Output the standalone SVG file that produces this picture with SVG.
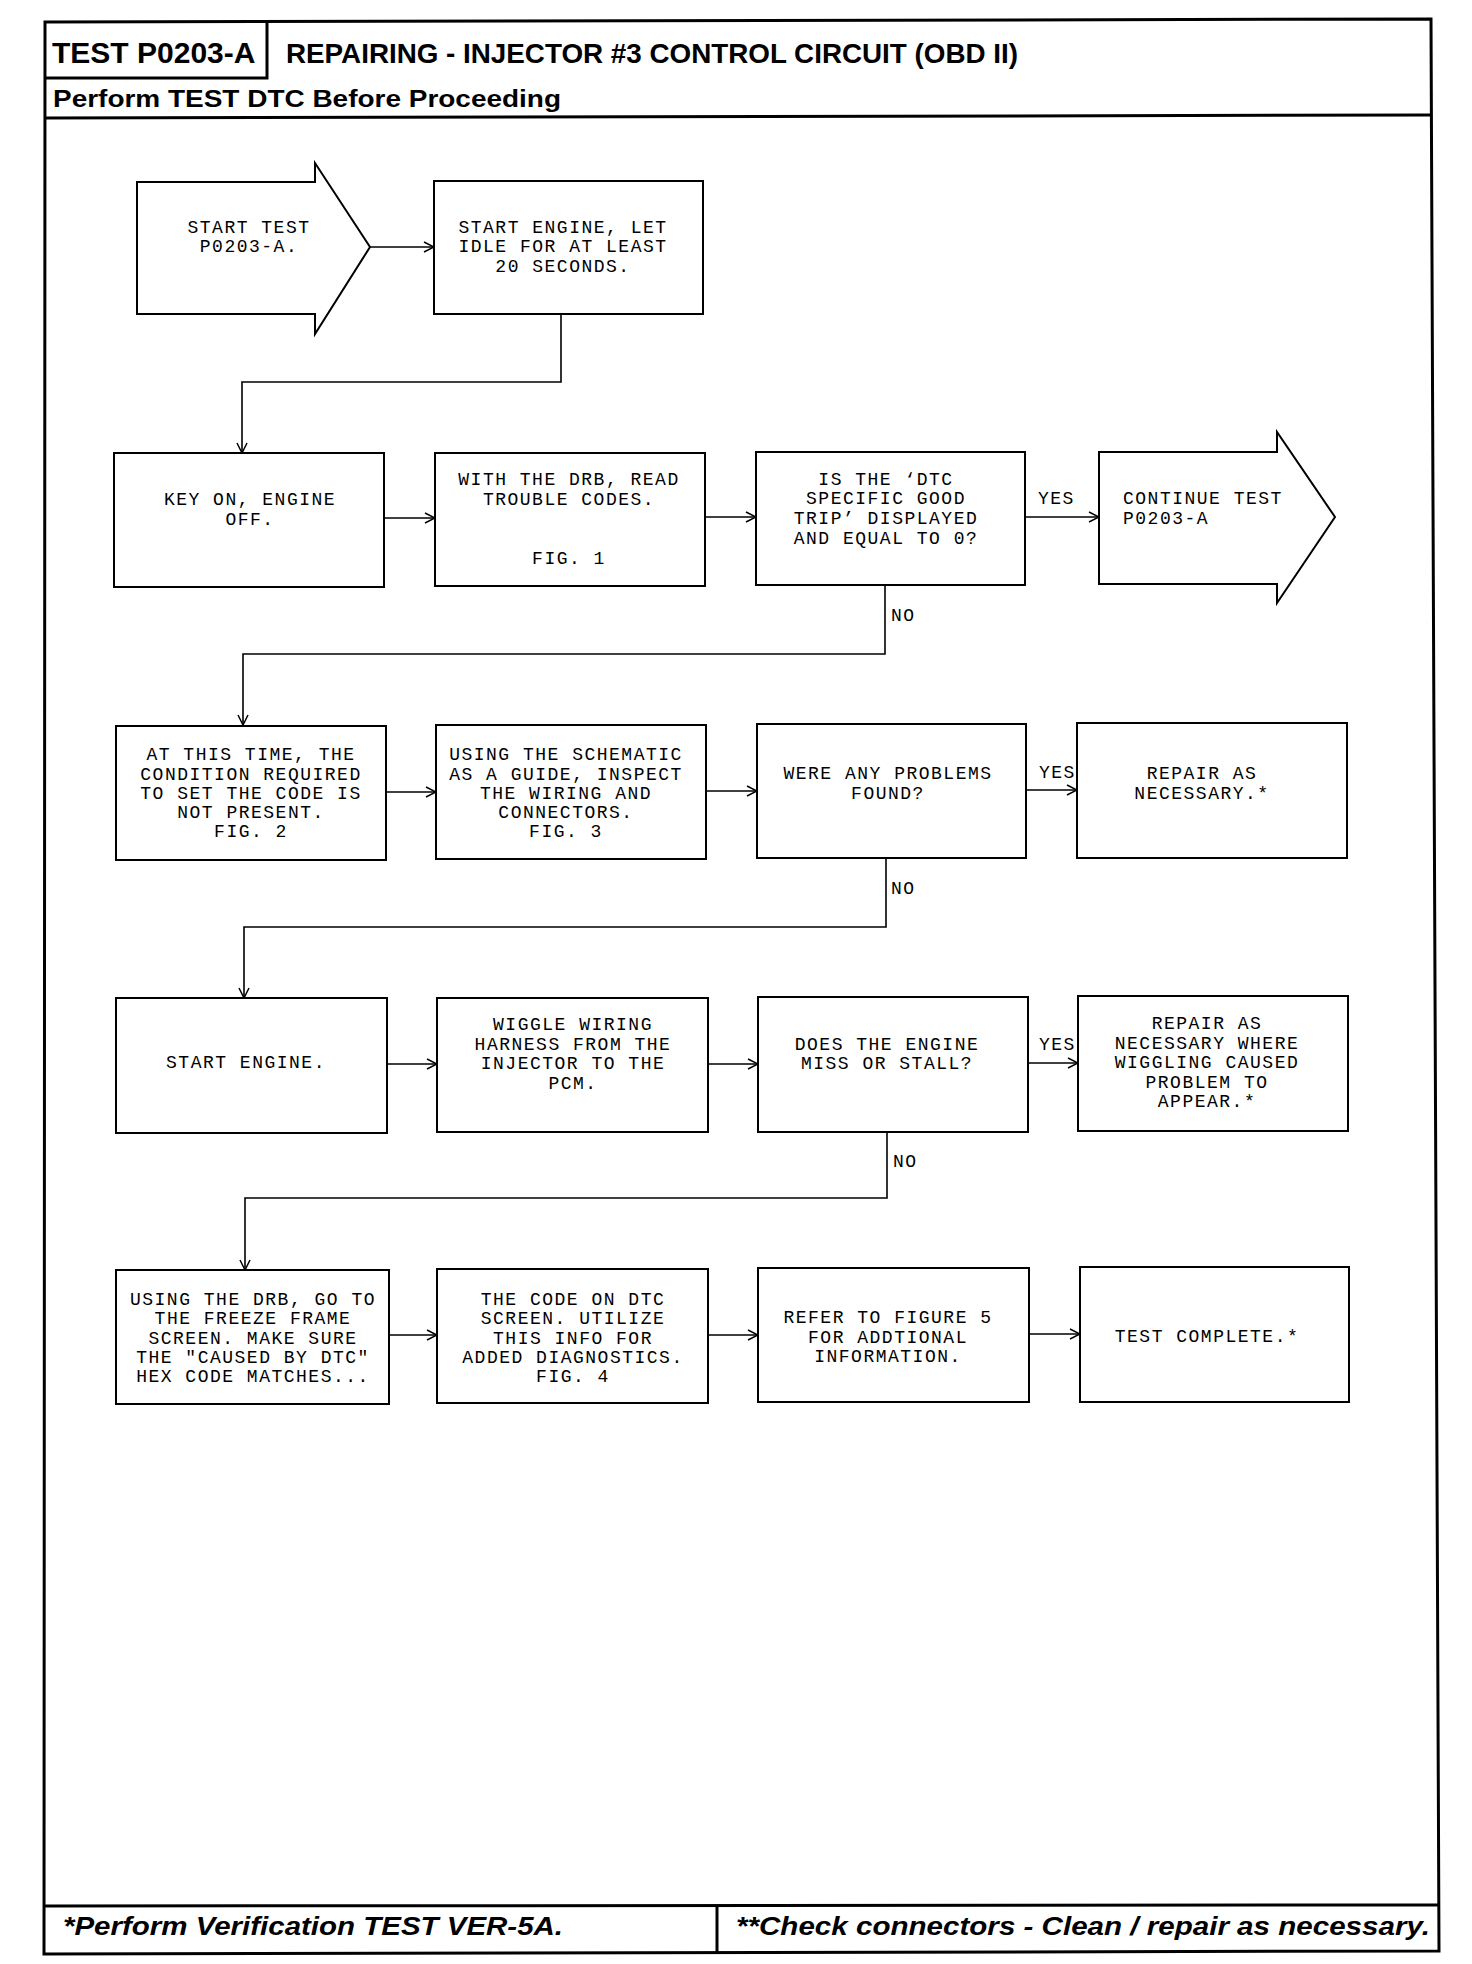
<svg xmlns="http://www.w3.org/2000/svg" width="1472" height="1964" viewBox="0 0 1472 1964">
<style>
.frame{fill:none;stroke:#000;stroke-width:3}
.box{fill:#fff;stroke:#000;stroke-width:2}
.conn{fill:none;stroke:#000;stroke-width:1.6}
.t{font-family:"Liberation Mono","DejaVu Sans Mono",monospace;font-size:18px;letter-spacing:1.5px;fill:#000;text-anchor:middle}
.l{font-family:"Liberation Mono","DejaVu Sans Mono",monospace;font-size:18px;letter-spacing:1.5px;fill:#000}
.h{font-family:"Liberation Sans",Arial,sans-serif;font-weight:bold;fill:#000}
.f{font-family:"Liberation Sans",Arial,sans-serif;font-weight:bold;font-style:italic;fill:#000;font-size:26px}
</style>
<defs>
<marker id="arr" markerUnits="userSpaceOnUse" markerWidth="12" markerHeight="12" refX="11" refY="6" orient="auto">
<path d="M1,1 L11,6 L1,11" fill="none" stroke="#000" stroke-width="1.5"/>
</marker>
</defs>
<rect width="1472" height="1964" fill="#fff"/>
<g id="frame">
<path class="frame" d="M45,22 L1431,19 L1439,1951 L44,1954 Z"/>
<path class="frame" d="M45,78 L267,78 L267,22"/>
<line class="frame" x1="45" y1="118" x2="1431" y2="115"/>
<line class="frame" x1="44" y1="1906" x2="1439" y2="1905"/>
<line class="frame" x1="717" y1="1905" x2="717" y2="1952"/>
<text class="h" x="52" y="63" font-size="30">TEST P0203-A</text>
<text class="h" x="286" y="63" font-size="28" textLength="732" lengthAdjust="spacingAndGlyphs">REPAIRING - INJECTOR #3 CONTROL CIRCUIT (OBD II)</text>
<text class="h" x="53" y="107" font-size="24" textLength="508" lengthAdjust="spacingAndGlyphs">Perform TEST DTC Before Proceeding</text>
<text class="f" x="63" y="1935" textLength="500" lengthAdjust="spacingAndGlyphs">*Perform Verification TEST VER-5A.</text>
<text class="f" x="736" y="1935" textLength="694" lengthAdjust="spacingAndGlyphs">**Check connectors - Clean / repair as necessary.</text>
</g>
<g id="connectors">
<line class="conn" x1="370" y1="247" x2="434" y2="247" marker-end="url(#arr)"/>
<polyline class="conn" points="561,314 561,382 242,382 242,453" marker-end="url(#arr)"/>
<line class="conn" x1="384" y1="518" x2="435" y2="518" marker-end="url(#arr)"/>
<line class="conn" x1="705" y1="517" x2="756" y2="517" marker-end="url(#arr)"/>
<line class="conn" x1="1025" y1="517" x2="1099" y2="517" marker-end="url(#arr)"/>
<polyline class="conn" points="885,585 885,654 243,654 243,725" marker-end="url(#arr)"/>
<line class="conn" x1="386" y1="792" x2="436" y2="792" marker-end="url(#arr)"/>
<line class="conn" x1="706" y1="791" x2="757" y2="791" marker-end="url(#arr)"/>
<line class="conn" x1="1026" y1="790" x2="1077" y2="790" marker-end="url(#arr)"/>
<polyline class="conn" points="886,858 886,927 244,927 244,998" marker-end="url(#arr)"/>
<line class="conn" x1="387" y1="1064" x2="437" y2="1064" marker-end="url(#arr)"/>
<line class="conn" x1="708" y1="1064" x2="758" y2="1064" marker-end="url(#arr)"/>
<line class="conn" x1="1028" y1="1063" x2="1078" y2="1063" marker-end="url(#arr)"/>
<polyline class="conn" points="887,1132 887,1198 245,1198 245,1270" marker-end="url(#arr)"/>
<line class="conn" x1="389" y1="1335" x2="437" y2="1335" marker-end="url(#arr)"/>
<line class="conn" x1="708" y1="1335" x2="758" y2="1335" marker-end="url(#arr)"/>
<line class="conn" x1="1029" y1="1334" x2="1080" y2="1334" marker-end="url(#arr)"/>
<text class="l" x="1038" y="504">YES</text>
<text class="l" x="891" y="621">NO</text>
<text class="l" x="1039" y="778">YES</text>
<text class="l" x="891" y="894">NO</text>
<text class="l" x="1039" y="1050">YES</text>
<text class="l" x="893" y="1167">NO</text>
</g>
<g id="n-start">
<path class="box" d="M137,182 L315,182 L315,163 L370,247 L315,334 L315,314 L137,314 Z"/>
<text class="t" x="249" y="233">START TEST</text>
<text class="t" x="249" y="252">P0203-A.</text>
</g>
<g id="n-idle">
<rect class="box" x="434" y="181" width="269" height="133"/>
<text class="t" x="563" y="233">START ENGINE, LET</text>
<text class="t" x="563" y="252">IDLE FOR AT LEAST</text>
<text class="t" x="563" y="272">20 SECONDS.</text>
</g>
<g id="n-keyon">
<rect class="box" x="114" y="453" width="270" height="134"/>
<text class="t" x="250" y="505">KEY ON, ENGINE</text>
<text class="t" x="250" y="525">OFF.</text>
</g>
<g id="n-read">
<rect class="box" x="435" y="453" width="270" height="133"/>
<text class="t" x="569" y="485">WITH THE DRB, READ</text>
<text class="t" x="569" y="505">TROUBLE CODES.</text>
<text class="t" x="569" y="564">FIG. 1</text>
</g>
<g id="n-goodtrip">
<rect class="box" x="756" y="452" width="269" height="133"/>
<text class="t" x="886" y="485">IS THE ‘DTC</text>
<text class="t" x="886" y="504">SPECIFIC GOOD</text>
<text class="t" x="886" y="524">TRIP’ DISPLAYED</text>
<text class="t" x="886" y="544">AND EQUAL TO 0?</text>
</g>
<g id="n-continue">
<path class="box" d="M1099,452 L1277,452 L1277,432 L1335,517 L1277,603 L1277,584 L1099,584 Z"/>
<text class="l" x="1123" y="504">CONTINUE TEST</text>
<text class="l" x="1123" y="524">P0203-A</text>
</g>
<g id="n-condition">
<rect class="box" x="116" y="726" width="270" height="134"/>
<text class="t" x="251" y="760">AT THIS TIME, THE</text>
<text class="t" x="251" y="780">CONDITION REQUIRED</text>
<text class="t" x="251" y="799">TO SET THE CODE IS</text>
<text class="t" x="251" y="818">NOT PRESENT.</text>
<text class="t" x="251" y="837">FIG. 2</text>
</g>
<g id="n-schematic">
<rect class="box" x="436" y="725" width="270" height="134"/>
<text class="t" x="566" y="760">USING THE SCHEMATIC</text>
<text class="t" x="566" y="780">AS A GUIDE, INSPECT</text>
<text class="t" x="566" y="799">THE WIRING AND</text>
<text class="t" x="566" y="818">CONNECTORS.</text>
<text class="t" x="566" y="837">FIG. 3</text>
</g>
<g id="n-problems">
<rect class="box" x="757" y="724" width="269" height="134"/>
<text class="t" x="888" y="779">WERE ANY PROBLEMS</text>
<text class="t" x="888" y="799">FOUND?</text>
</g>
<g id="n-repair1">
<rect class="box" x="1077" y="723" width="270" height="135"/>
<text class="t" x="1202" y="779">REPAIR AS</text>
<text class="t" x="1202" y="799">NECESSARY.*</text>
</g>
<g id="n-startengine">
<rect class="box" x="116" y="998" width="271" height="135"/>
<text class="t" x="246" y="1068">START ENGINE.</text>
</g>
<g id="n-wiggle">
<rect class="box" x="437" y="998" width="271" height="134"/>
<text class="t" x="573" y="1030">WIGGLE WIRING</text>
<text class="t" x="573" y="1050">HARNESS FROM THE</text>
<text class="t" x="573" y="1069">INJECTOR TO THE</text>
<text class="t" x="573" y="1089">PCM.</text>
</g>
<g id="n-miss">
<rect class="box" x="758" y="997" width="270" height="135"/>
<text class="t" x="887" y="1050">DOES THE ENGINE</text>
<text class="t" x="887" y="1069">MISS OR STALL?</text>
</g>
<g id="n-repair2">
<rect class="box" x="1078" y="996" width="270" height="135"/>
<text class="t" x="1207" y="1029">REPAIR AS</text>
<text class="t" x="1207" y="1049">NECESSARY WHERE</text>
<text class="t" x="1207" y="1068">WIGGLING CAUSED</text>
<text class="t" x="1207" y="1088">PROBLEM TO</text>
<text class="t" x="1207" y="1107">APPEAR.*</text>
</g>
<g id="n-freeze">
<rect class="box" x="116" y="1270" width="273" height="134"/>
<text class="t" x="253" y="1305">USING THE DRB, GO TO</text>
<text class="t" x="253" y="1324">THE FREEZE FRAME</text>
<text class="t" x="253" y="1344">SCREEN. MAKE SURE</text>
<text class="t" x="253" y="1363">THE "CAUSED BY DTC"</text>
<text class="t" x="253" y="1382">HEX CODE MATCHES...</text>
</g>
<g id="n-code">
<rect class="box" x="437" y="1269" width="271" height="134"/>
<text class="t" x="573" y="1305">THE CODE ON DTC</text>
<text class="t" x="573" y="1324">SCREEN. UTILIZE</text>
<text class="t" x="573" y="1344">THIS INFO FOR</text>
<text class="t" x="573" y="1363">ADDED DIAGNOSTICS.</text>
<text class="t" x="573" y="1382">FIG. 4</text>
</g>
<g id="n-refer">
<rect class="box" x="758" y="1268" width="271" height="134"/>
<text class="t" x="888" y="1323">REFER TO FIGURE 5</text>
<text class="t" x="888" y="1343">FOR ADDTIONAL</text>
<text class="t" x="888" y="1362">INFORMATION.</text>
</g>
<g id="n-complete">
<rect class="box" x="1080" y="1267" width="269" height="135"/>
<text class="t" x="1207" y="1342">TEST COMPLETE.*</text>
</g>
</svg>
